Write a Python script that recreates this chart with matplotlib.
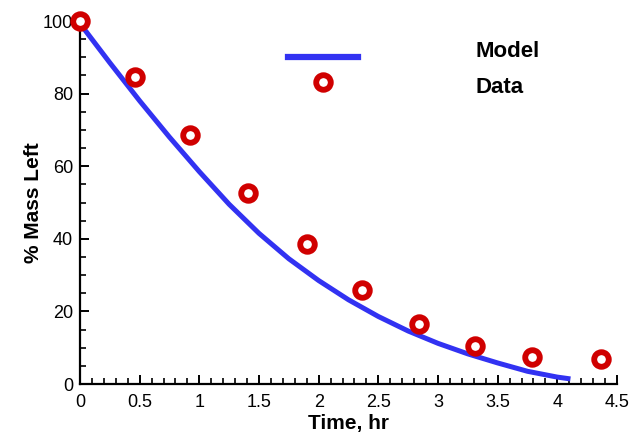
import numpy as np
import matplotlib
matplotlib.use("Agg")
import matplotlib.pyplot as plt
from matplotlib.ticker import MultipleLocator
from matplotlib.lines import Line2D
from matplotlib.legend_handler import HandlerLine2D

plt.rcParams['font.family'] = ['Liberation Sans', 'DejaVu Sans']

# measured data points
t_data = [0.0, 0.46, 0.92, 1.41, 1.90, 2.36, 2.84, 3.31, 3.79, 4.37]
mass_data = [100.0, 84.5, 68.5, 52.5, 38.5, 26.0, 16.5, 10.5, 7.5, 7.0]

# model curve
t_model = [0.03, 0.25, 0.5, 0.75, 1.0, 1.25, 1.5, 1.75, 2.0, 2.25,
           2.5, 2.75, 3.0, 3.25, 3.5, 3.75, 4.0, 4.11]
mass_model = [98.0, 88.5, 78.0, 68.0, 58.5, 49.5, 41.5, 34.5, 28.5, 23.2,
              18.6, 14.6, 11.2, 8.3, 5.8, 3.5, 1.9, 1.4]

blue = '#3232f2'
red = '#d00000'


class ShiftedHandler(HandlerLine2D):
    # move a legend handle up/down (points) relative to its label
    def __init__(self, dy, **kw):
        super().__init__(**kw)
        self.dy = dy

    def create_artists(self, legend, orig_handle, xdescent, ydescent,
                       width, height, fontsize, trans):
        arts = super().create_artists(legend, orig_handle, xdescent, ydescent,
                                      width, height, fontsize, trans)
        for a in arts:
            a.set_ydata(np.asarray(a.get_ydata()) + self.dy)
        return arts


fig = plt.figure(figsize=(6.31, 4.34), dpi=100)
ax = fig.add_axes([0.1268, 0.1152, 0.851, 0.8364])

ax.plot(t_model, mass_model, color=blue, lw=3.6, solid_capstyle='butt')
ax.plot(t_data, mass_data, 'o', ms=10.5, mew=4.2, mfc='white', mec=red,
        linestyle='none', clip_on=False, zorder=5)

ax.set_xlim(0, 4.5)
ax.set_ylim(0, 100)
ax.xaxis.set_minor_locator(MultipleLocator(0.1))
ax.yaxis.set_major_locator(MultipleLocator(20))
ax.yaxis.set_minor_locator(MultipleLocator(5))
ax.set_xticks(np.arange(0, 4.51, 0.5))
ax.set_xticklabels(['0', '0.5', '1', '1.5', '2', '2.5', '3', '3.5', '4', '4.5'])

for s in ['top', 'right']:
    ax.spines[s].set_visible(False)
for s in ['left', 'bottom']:
    ax.spines[s].set_linewidth(1.6)
    ax.spines[s].set_color('black')

ax.tick_params(which='major', direction='in', length=6.5, width=1.4,
               labelsize=13, pad=7, colors='black')
ax.tick_params(which='minor', direction='in', length=4, width=1.2)
ax.tick_params(axis='y', which='major', pad=5)

ax.set_xlabel('Time, hr', fontsize=15, fontweight='bold', labelpad=2)
ax.set_ylabel('% Mass Left', fontsize=15, fontweight='bold', labelpad=0)

h_model = Line2D([], [], color=blue, lw=4.5)
h_data = Line2D([], [], marker='o', ms=10.5, mew=4.2, mfc='white', mec=red,
                linestyle='none')
leg = ax.legend([h_model, h_data], ['Model', 'Data'], loc='upper left',
                bbox_to_anchor=(288 / 631, 1 - 41 / 434),
                bbox_transform=fig.transFigure, frameon=False,
                borderpad=0, borderaxespad=0, handlelength=3.15,
                handletextpad=5.3, labelspacing=0.68,
                prop={'size': 16, 'weight': 'bold'},
                handler_map={h_model: ShiftedHandler(-5.5),
                             h_data: ShiftedHandler(2.5)})

fig.savefig('out.png', dpi=100)
